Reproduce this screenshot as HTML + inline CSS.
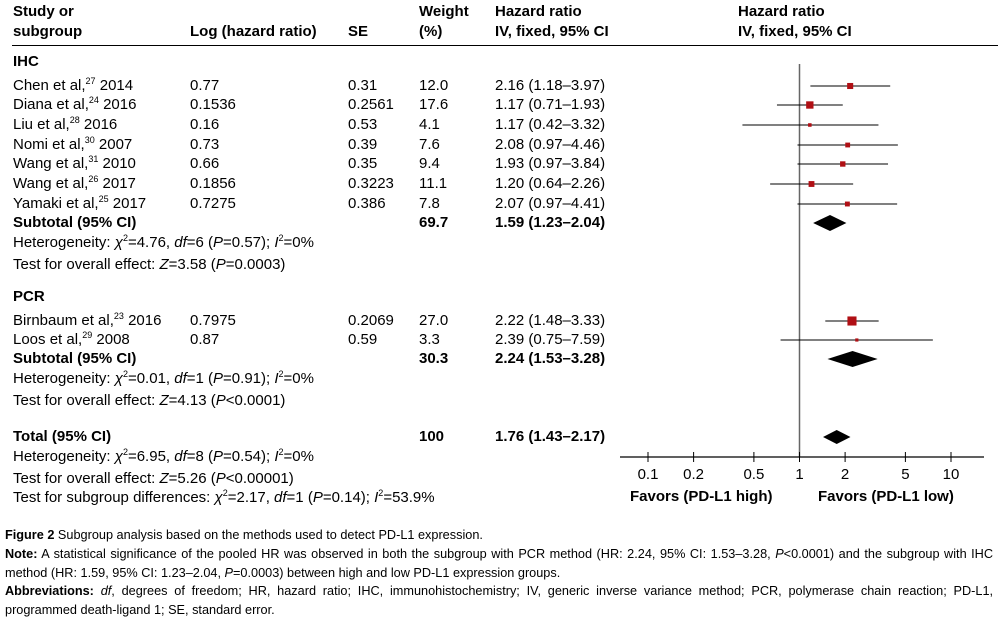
<!DOCTYPE html>
<html><head><meta charset="utf-8"><style>
body{margin:0;width:998px;height:620px;background:#fff;position:relative;overflow:hidden;font-family:"Liberation Sans",Arial,sans-serif;color:#000}
.t{position:absolute;font-size:15px;line-height:18px;white-space:nowrap;transform:translateY(-9px)}
.b{font-weight:bold}
sup{font-size:9px;line-height:0;vertical-align:6px}
.cap{position:absolute;left:5px;width:1026px;font-family:"Liberation Sans Narrow","Liberation Sans",sans-serif;font-size:13.2px;line-height:18.5px;text-align:justify;transform:scaleX(0.963);transform-origin:0 0}
</style></head><body>
<div>
<div class="t b" style="left:13px;top:12px">Study or</div>
<div class="t b" style="left:13px;top:32px">subgroup</div>
<div class="t b" style="left:190px;top:32px">Log (hazard ratio)</div>
<div class="t b" style="left:348px;top:32px">SE</div>
<div class="t b" style="left:419px;top:12px">Weight</div>
<div class="t b" style="left:419px;top:32px">(%)</div>
<div class="t b" style="left:495px;top:12px">Hazard ratio</div>
<div class="t b" style="left:495px;top:32px">IV, fixed, 95% CI</div>
<div class="t b" style="left:738px;top:12px">Hazard ratio</div>
<div class="t b" style="left:738px;top:32px">IV, fixed, 95% CI</div>
<div style="position:absolute;left:12px;top:45px;width:986px;height:1px;background:#000"></div>
<div id="rows"></div>
</div>
<svg id="plot" width="998" height="620" style="position:absolute;left:0;top:0"></svg>
<div class="cap" style="top:526px"><b>Figure 2</b> Subgroup analysis based on the methods used to detect PD-L1 expression.</div>
<div class="cap" style="top:545px"><b>Note:</b> A statistical significance of the pooled HR was observed in both the subgroup with PCR method (HR: 2.24, 95% CI: 1.53–3.28, <i>P</i>&lt;0.0001) and the subgroup with IHC method (HR: 1.59, 95% CI: 1.23–2.04, <i>P</i>=0.0003) between high and low PD-L1 expression groups.</div>
<div class="cap" style="top:582px"><b>Abbreviations:</b> <i>df</i>, degrees of freedom; HR, hazard ratio; IHC, immunohistochemistry; IV, generic inverse variance method; PCR, polymerase chain reaction; PD-L1, programmed death-ligand 1; SE, standard error.</div>
<script>
const studies=["Chen et al,<sup>27</sup> 2014","Diana et al,<sup>24</sup> 2016","Liu et al,<sup>28</sup> 2016","Nomi et al,<sup>30</sup> 2007","Wang et al,<sup>31</sup> 2010","Wang et al,<sup>26</sup> 2017","Yamaki et al,<sup>25</sup> 2017","Birnbaum et al,<sup>23</sup> 2016","Loos et al,<sup>29</sup> 2008"];
const logHR=["0.77","0.1536","0.16","0.73","0.66","0.1856","0.7275","0.7975","0.87"];
const seVals=["0.31","0.2561","0.53","0.39","0.35","0.3223","0.386","0.2069","0.59"];
const weights=[12.0,17.6,4.1,7.6,9.4,11.1,7.8,27.0,3.3];
const hr=[2.16,1.17,1.17,2.08,1.93,1.20,2.07,2.22,2.39];
const lo=[1.18,0.71,0.42,0.97,0.97,0.64,0.97,1.48,0.75];
const hi=[3.97,1.93,3.32,4.46,3.84,2.26,4.41,3.33,7.59];
const studyY=[86,105,125,145,164,184,204,321,340];
const sumNames=["Subtotal (95% CI)","Subtotal (95% CI)","Total (95% CI)"];
const sumW=["69.7","30.3","100"];
const sumHR=[1.59,2.24,1.76];
const sumLo=[1.23,1.53,1.43];
const sumHi=[2.04,3.28,2.17];
const sumY=[223,359,437];
const ticks=[0.1,0.2,0.5,1,2,5,10];
const x=v=>799.5+151.5*Math.log10(v);
const f=v=>v.toFixed(2);
const R=document.getElementById('rows');
function t(txt,l,y,cls,name){const d=document.createElement('div');d.className='t '+(cls||'');d.style.left=l+'px';d.style.top=y+'px';d.innerHTML=txt;


R.appendChild(d);}
t('IHC',13,62,'b','group-ihc');t('PCR',13,297,'b','group-pcr');
studies.forEach((s,i)=>{const y=studyY[i];t(s,13,y,'','study-name');t(logHR[i],190,y,'','log-hr');t(seVals[i],348,y,'','se');t(weights[i].toFixed(1),419,y,'','weight');t(f(hr[i])+' ('+f(lo[i])+'–'+f(hi[i])+')',495,y,'','hr-ci');});
sumNames.forEach((s,i)=>{const y=sumY[i];t(s,13,y,'b','summary-name');t(sumW[i],419,y,'b','summary-weight');t(f(sumHR[i])+' ('+f(sumLo[i])+'–'+f(sumHi[i])+')',495,y,'b','summary-hr-ci');});
t('Heterogeneity: <i>χ</i><sup>2</sup>=4.76, <i>df</i>=6 (<i>P</i>=0.57); <i>I</i><sup>2</sup>=0%',13,243,'','heterogeneity-ihc');
t('Test for overall effect: <i>Z</i>=3.58 (<i>P</i>=0.0003)',13,265,'','overall-effect-ihc');
t('Heterogeneity: <i>χ</i><sup>2</sup>=0.01, <i>df</i>=1 (<i>P</i>=0.91); <i>I</i><sup>2</sup>=0%',13,379,'','heterogeneity-pcr');
t('Test for overall effect: <i>Z</i>=4.13 (<i>P</i>&lt;0.0001)',13,401,'','overall-effect-pcr');
t('Heterogeneity: <i>χ</i><sup>2</sup>=6.95, <i>df</i>=8 (<i>P</i>=0.54); <i>I</i><sup>2</sup>=0%',13,457,'','heterogeneity-total');
t('Test for overall effect: <i>Z</i>=5.26 (<i>P</i>&lt;0.00001)',13,479,'','overall-effect-total');
t('Test for subgroup differences: <i>χ</i><sup>2</sup>=2.17, <i>df</i>=1 (<i>P</i>=0.14); <i>I</i><sup>2</sup>=53.9%',13,498,'','subgroup-differences');
t('Favors (PD-L1 high)',630,497,'b','favors-high-label');
t('Favors (PD-L1 low)',818,497,'b','favors-low-label');
const S=document.getElementById('plot');const NS='http://www.w3.org/2000/svg';
function e(tag,a,name){const n=document.createElementNS(NS,tag);for(const k in a)n.setAttribute(k,a[k]);


S.appendChild(n);return n;}
e('line',{x1:x(1),x2:x(1),y1:64,y2:457,stroke:'#666','stroke-width':1.5},'null-line');
e('line',{x1:620,x2:984,y1:457,y2:457,stroke:'#000','stroke-width':1.2},'x-axis');
ticks.forEach(v=>{e('line',{x1:x(v),x2:x(v),y1:452,y2:462,stroke:'#000'},'x-tick');
const tx=e('text',{x:x(v),y:479,'text-anchor':'middle','font-size':15,'font-family':'Liberation Sans, sans-serif'},'x-tick-label');tx.textContent=String(v);});
studies.forEach((s,i)=>{const y=studyY[i];e('line',{x1:x(lo[i]),x2:x(hi[i]),y1:y,y2:y,stroke:'#000','stroke-width':1},'ci-line');
const sz=1.75*Math.sqrt(weights[i]);e('rect',{x:x(hr[i])-sz/2,y:y-sz/2,width:sz,height:sz,fill:'#b00f14'},'study-marker');});
sumY.forEach((y,i)=>{const h=i==2?7:8;e('polygon',{points:`${x(sumLo[i])},${y} ${x(sumHR[i])},${y-h} ${x(sumHi[i])},${y} ${x(sumHR[i])},${y+h}`,fill:'#000'},'summary-diamond');});
</script>
</body></html>
